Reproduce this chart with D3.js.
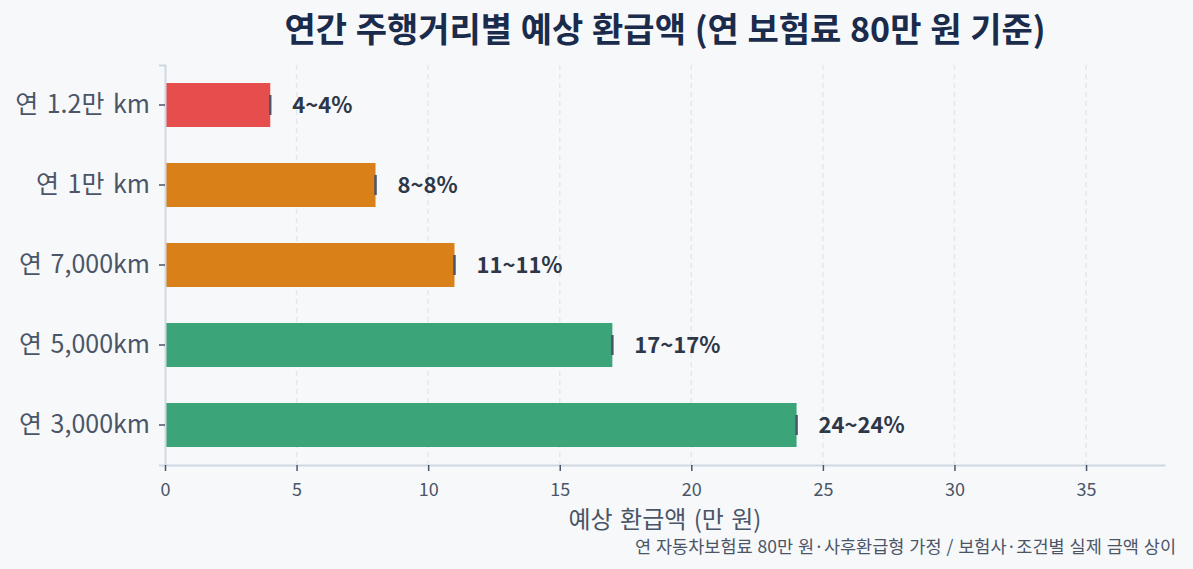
<!DOCTYPE html>
<html>
<head>
<meta charset="utf-8">
<script src="https://cdn.jsdelivr.net/npm/d3@7"></script>
<style>
  body { margin: 0; background: #f7f8fa; }
  svg { display: block; }
</style>
</head>
<body>
<div id="chart"></div>
<script>
const categories = ["연 1.2만 km", "연 1만 km", "연 7,000km", "연 5,000km", "연 3,000km"];
const refunds = [4, 8, 11, 17, 24];
const lows = [4, 8, 11, 17, 24];
const highs = [4, 8, 11, 17, 24];
const barColors = ["#e64e4e", "#d98019", "#d98019", "#3ba579", "#3ba579"];
const xTicks = [0, 5, 10, 15, 20, 25, 30, 35];

const size = { width: 1193, height: 569 };
const margin = { top: 65, right: 28, bottom: 104, left: 165 };
const font = "'Noto Sans CJK KR', 'Noto Sans', sans-serif";

const data = categories.map((c, i) => ({
  cat: c, value: refunds[i], lo: lows[i], hi: highs[i], color: barColors[i],
}));

const svg = d3.select("#chart").append("svg")
  .attr("width", size.width)
  .attr("height", size.height)
  .style("font-family", font);

svg.append("rect")
  .attr("width", size.width).attr("height", size.height)
  .attr("fill", "#f7f8fa");

const x = d3.scaleLinear()
  .domain([0, 38])
  .range([margin.left, size.width - margin.right]);

const y = d3.scaleBand()
  .domain(categories)
  .range([margin.top, size.height - margin.bottom])
  .paddingInner(0.45)
  .paddingOuter(0.225);

const bottom = size.height - margin.bottom;

// grid
svg.append("g")
  .selectAll("line")
  .data(xTicks.slice(1))
  .join("line")
  .attr("x1", (d) => x(d)).attr("x2", (d) => x(d))
  .attr("y1", margin.top).attr("y2", bottom)
  .attr("stroke", "#e3e7ee")
  .attr("stroke-width", 1.5)
  .attr("stroke-dasharray", "5 4");

// bars
svg.append("g")
  .selectAll("rect")
  .data(data)
  .join("rect")
  .attr("x", x(0))
  .attr("y", (d) => y(d.cat))
  .attr("width", (d) => x(d.value) - x(0))
  .attr("height", y.bandwidth())
  .attr("fill", (d) => d.color);

// error ticks
const err = svg.append("g")
  .selectAll("g")
  .data(data)
  .join("g")
  .attr("transform", (d) => `translate(0, ${y(d.cat) + y.bandwidth() / 2})`);

err.append("line")
  .attr("x1", (d) => x(d.lo)).attr("x2", (d) => x(d.hi))
  .attr("stroke", "#4a5568").attr("stroke-width", 2);

err.selectAll(".cap")
  .data((d) => [d.lo, d.hi])
  .join("line")
  .attr("class", "cap")
  .attr("x1", (v) => x(v)).attr("x2", (v) => x(v))
  .attr("y1", -10).attr("y2", 10)
  .attr("stroke", "#4a5568").attr("stroke-width", 2);

err.append("text")
  .attr("x", (d) => x(d.hi) + 22)
  .attr("dy", "0.35em")
  .attr("fill", "#2d3748")
  .style("font-size", "22px")
  .style("font-weight", "bold")
  .text((d) => `${d.lo}~${d.hi}%`);

// axes
const yAxis = svg.append("g")
  .attr("transform", `translate(${margin.left}, 0)`)
  .call(d3.axisLeft(y).tickSize(6).tickPadding(9));
yAxis.select(".domain").attr("stroke", "#cfd8e3").attr("stroke-width", 2);
yAxis.selectAll(".tick line").attr("stroke", "#4a5568").attr("stroke-width", 1.5);
yAxis.selectAll(".tick text")
  .attr("fill", "#4a5568")
  .style("font-size", "25px")
  .style("word-spacing", "3px")
  .style("font-family", font);

const xAxis = svg.append("g")
  .attr("transform", `translate(0, ${bottom})`)
  .call(d3.axisBottom(x).tickValues(xTicks).tickSize(6).tickPadding(12).tickSizeOuter(0));
xAxis.select(".domain").attr("stroke", "#cfd8e3").attr("stroke-width", 2);
xAxis.selectAll(".tick line").attr("stroke", "#4a5568").attr("stroke-width", 1.5);
xAxis.selectAll(".tick text")
  .attr("fill", "#4a5568")
  .style("font-size", "18px")
  .style("font-family", font);

// labels
svg.append("text")
  .attr("x", (x.range()[0] + x.range()[1]) / 2)
  .attr("y", 528)
  .attr("text-anchor", "middle")
  .attr("fill", "#4a5568")
  .style("font-size", "24px")
  .style("word-spacing", "2px")
  .text("예상 환급액 (만 원)");

svg.append("text")
  .attr("x", (x.range()[0] + x.range()[1]) / 2)
  .attr("y", 42)
  .attr("text-anchor", "middle")
  .attr("fill", "#1a2b4b")
  .style("font-size", "34px")
  .style("font-weight", "bold")
  .style("word-spacing", "1px")
  .text("연간 주행거리별 예상 환급액 (연 보험료 80만 원 기준)");

svg.append("text")
  .attr("x", 1176)
  .attr("y", 553)
  .attr("text-anchor", "end")
  .attr("fill", "#4a5568")
  .style("font-size", "17.5px")
  .style("word-spacing", "1px")
  .text("연 자동차보험료 80만 원·사후환급형 가정 / 보험사·조건별 실제 금액 상이");
</script>
</body>
</html>
